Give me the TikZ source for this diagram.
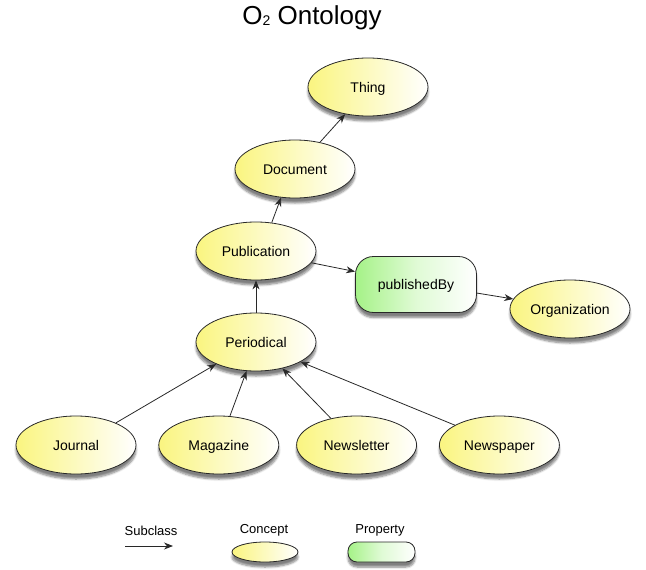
\documentclass[tikz,border=0pt]{standalone}
\usepackage{fontspec}
\setmainfont{Liberation Sans}
\usetikzlibrary{positioning, shapes.geometric, arrows.meta, shadows.blur}

\definecolor{conceptyellow}{RGB}{250,245,128}
\definecolor{propgreen}{RGB}{165,242,135}
\definecolor{edgegray}{RGB}{40,40,40}

\begin{document}
\begin{tikzpicture}[
    x=1pt, y=-1pt,
    concept/.style={ellipse, draw=edgegray, line width=0.8pt, left color=conceptyellow, right color=white,
        minimum width=120pt, minimum height=58pt, inner sep=0pt, font=\fontsize{14}{16}\selectfont,
        text height=10pt, text depth=0pt,
        blur shadow={shadow xshift=0pt, shadow yshift=-5pt, shadow blur steps=6, shadow opacity=50}},
    property/.style={rectangle, rounded corners=18pt, draw=edgegray, line width=0.8pt, left color=propgreen,
        right color=white, middle color=propgreen!35!white,
        minimum width=121pt, minimum height=56pt, inner sep=0pt, font=\fontsize{14}{16}\selectfont,
        text height=10pt, text depth=0pt,
        blur shadow={shadow xshift=0pt, shadow yshift=-5pt, shadow blur steps=6, shadow opacity=50}},
    legendtext/.style={font=\fontsize{13}{15}\selectfont, inner sep=1pt},
    arrow/.style={->, >={Stealth[length=9pt, width=7pt]}, line width=0.8pt, draw=edgegray},
]
    \useasboundingbox (0,0) rectangle (646,570);

    % Title
    \node[font=\fontsize{26}{30}\selectfont] (title) at (312,18) {O{\fontsize{14}{14}\selectfont\raisebox{-1pt}{2}} Ontology};

    % Hierarchy
    \node[concept] (thing) at (368,87) {Thing};
    \node[concept] (document) at (295,169) {Document};
    \node[concept] (publication) at (256,251) {Publication};
    \node[concept] (periodical) at (256,342) {Periodical};

    % Subclasses of Periodical
    \node[concept] (journal) at (76,445) {Journal};
    \node[concept, right=22pt of journal] (magazine) {Magazine};
    \node[concept, right=17pt of magazine] (newsletter) {Newsletter};
    \node[concept, right=22pt of newsletter] (newspaper) {Newspaper};

    % Property
    \node[property] (publishedby) at (416,284.5) {publishedBy};
    \node[concept] (organization) at (570,309) {Organization};

    % Connections
    \draw[arrow] (document.47) -- (thing.230);
    \draw[arrow] (publication.61) -- (document.244);
    \draw[arrow] (periodical.north) -- (publication.south);
    \draw[arrow] (journal.29) -- (periodical.209);
    \draw[arrow] (magazine.69) -- (periodical.252);
    \draw[arrow] (newsletter.134) -- (periodical.315);
    \draw[arrow] (newspaper.156) -- (periodical.336);
    \draw[arrow] (publication.348) -- (publishedby.168);
    \draw[arrow] (publishedby.352) -- (organization.170);

    % Legend
    \coordinate (subfrom) at (125,546);
    \coordinate (subto) at (173,546);
    \draw[arrow] (subfrom) -- (subto);
    \node[legendtext] (sublabel) at (151,531) {Subclass};
    \node[concept, minimum width=66pt, minimum height=20pt] (conceptkey) at (265,552) {};
    \node[legendtext] (conceptlabel) at (264,530) {Concept};
    \node[property, rounded corners=9pt, minimum width=67pt, minimum height=20pt] (propertykey) at (381.5,552) {};
    \node[legendtext] (propertylabel) at (380,530) {Property};
\end{tikzpicture}
\end{document}
